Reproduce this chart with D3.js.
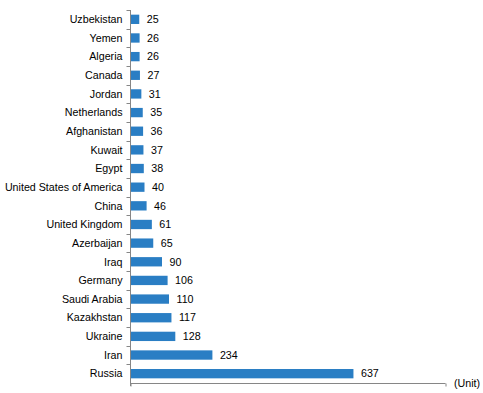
<!DOCTYPE html>
<html>
<head>
<meta charset="utf-8">
<script src="https://cdn.jsdelivr.net/npm/d3@7"></script>
<style>
body{margin:0;background:#fff;}
svg{display:block;font-family:"Liberation Sans",Arial,sans-serif;}
</style>
</head>
<body>
<svg id="chart" width="483" height="393"></svg>
<script>
const categories = ["Uzbekistan","Yemen","Algeria","Canada","Jordan","Netherlands","Afghanistan","Kuwait","Egypt","United States of America","China","United Kingdom","Azerbaijan","Iraq","Germany","Saudi Arabia","Kazakhstan","Ukraine","Iran","Russia"];
const values = [25,26,26,27,31,35,36,37,38,40,46,61,65,90,106,110,117,128,234,637];
const unitLabel = "(Unit)";

const svg = d3.select("#chart");
const x0 = 130.5, x1 = 445.5, yTop = 10, yBot = 383;
const fs = 10.7;
const x = d3.scaleLinear().domain([0, 900]).range([x0, x1]);
const y = d3.scaleBand().domain(categories).range([yTop, yBot]).paddingInner(0.5).paddingOuter(0.25);
const color = "#2a7ec4";
const axisColor = "#868686";

// bars
svg.append("g").selectAll("rect").data(values).join("rect")
  .attr("x", x(0))
  .attr("y", (d,i) => y(categories[i]))
  .attr("width", d => x(d) - x(0))
  .attr("height", y.bandwidth())
  .attr("fill", color);

// value labels
svg.append("g").selectAll("text").data(values).join("text")
  .attr("x", d => x(d) + 7.5)
  .attr("y", (d,i) => y(categories[i]) + y.bandwidth()/2)
  .attr("dy", "0.35em")
  .attr("font-size", fs)
  .attr("fill", "#000")
  .text(d => d);

// y axis line with category boundary ticks
const step = (yBot - yTop) / categories.length;
const yg = svg.append("g");
yg.append("line").attr("x1", x0).attr("x2", x0).attr("y1", yTop).attr("y2", yBot + 3)
  .attr("stroke", axisColor);
yg.selectAll("line.tk").data(d3.range(categories.length)).join("line").attr("class","tk")
  .attr("x1", x0 - 4).attr("x2", x0)
  .attr("y1", i => Math.round(yTop + i*step) + 0.5)
  .attr("y2", i => Math.round(yTop + i*step) + 0.5)
  .attr("stroke", axisColor);

// category labels
yg.selectAll("text").data(categories).join("text")
  .attr("x", x0 - 8)
  .attr("y", d => y(d) + y.bandwidth()/2)
  .attr("dy", "0.35em")
  .attr("text-anchor", "end")
  .attr("font-size", fs)
  .attr("fill", "#000")
  .text(d => d);

// x axis
const xa = d3.axisBottom(x).tickValues([0, 900]).tickSize(3).tickFormat("");
const xg = svg.append("g").attr("transform", `translate(0,${yBot + 0.5})`).call(xa);
xg.selectAll("path,line").attr("stroke", axisColor);
xg.select("path").attr("d", `M${x0},0H${x1}`);

svg.append("text")
  .attr("x", 454).attr("y", yBot).attr("dy", "0.35em")
  .attr("font-size", fs).attr("fill", "#000")
  .text(unitLabel);
</script>
</body>
</html>
